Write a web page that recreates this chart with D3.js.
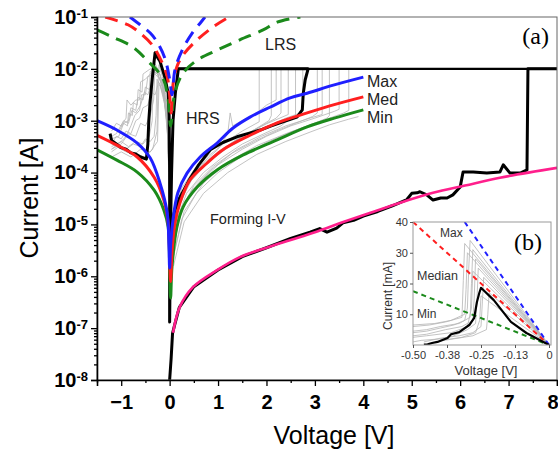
<!DOCTYPE html>
<html lang="en">
<head>
<meta charset="utf-8">
<style>
    body { margin: 0; background: #fff; }
    svg { display: block; }
    text { font-family: "Liberation Sans", Arial, sans-serif; }
</style>
</head>
<body>
<svg width="558" height="453"></svg>
<script src="https://cdn.jsdelivr.net/npm/d3@7/dist/d3.min.js"></script>
<script>
    // ---------------------------------------------------------------
    // Data. Main plot points are [V, log10(I/A)]
    // ---------------------------------------------------------------
    const xTicks = [-1, 0, 1, 2, 3, 4, 5, 6, 7, 8];
    const xMinor = [-1.5, -0.5, 0.5, 1.5, 2.5, 3.5, 4.5, 5.5, 6.5, 7.5];
    const yTickExp = [-8, -7, -6, -5, -4, -3, -2, -1];

    // HRS fits (solid)
    const maxFit = [[-1.5,-3.0],[-1.09,-3.18],[-0.67,-3.43],[-0.4,-3.72],[-0.2,-4.2],[-0.05,-4.78],[-0.015,-5.4],[0.0,-5.84],
        [0.02,-5.4],[0.07,-4.91],[0.17,-4.39],[0.36,-4.01],[0.63,-3.7],[0.98,-3.43],[1.31,-3.14],[1.66,-2.93],[2.07,-2.74],
        [2.49,-2.56],[2.84,-2.47],[3.4,-2.31],[4.0,-2.16]];
    const medFit = [[-1.5,-3.28],[-1.09,-3.47],[-0.67,-3.7],[-0.32,-4.09],[-0.12,-4.53],[-0.03,-4.97],[0.0,-5.6],[0.02,-6.1],
        [0.05,-5.5],[0.11,-4.97],[0.21,-4.59],[0.42,-4.14],[0.77,-3.82],[1.1,-3.56],[1.66,-3.28],[2.22,-3.04],[2.84,-2.85],
        [3.4,-2.69],[4.0,-2.54]];
    const minFit = [[-1.5,-3.56],[-1.09,-3.76],[-0.67,-3.99],[-0.32,-4.34],[-0.12,-4.72],[-0.03,-5.05],[0.0,-5.8],[0.02,-6.42],
        [0.05,-5.8],[0.15,-5.05],[0.28,-4.66],[0.57,-4.28],[0.98,-3.95],[1.52,-3.66],[2.22,-3.37],[2.84,-3.12],[3.4,-2.95],
        [4.0,-2.79]];

    // LRS fits (dashed)
    const maxLRS = [[-0.82,-1.0],[-0.61,-1.15],[-0.4,-1.31],[-0.26,-1.48],[-0.1,-1.79],[0.0,-2.2],[0.05,-2.5],[0.11,-2.02],
        [0.26,-1.64],[0.48,-1.29],[0.63,-1.12],[0.73,-1.0]];
    const medLRS = [[-1.33,-1.0],[-0.86,-1.15],[-0.61,-1.31],[-0.35,-1.55],[-0.16,-1.87],[-0.05,-2.15],[0.0,-2.5],[0.03,-2.85],
        [0.07,-2.3],[0.15,-1.96],[0.28,-1.73],[0.57,-1.44],[0.9,-1.19],[1.19,-1.02]];
    const minLRS = [[-1.5,-1.25],[-1.17,-1.39],[-0.76,-1.58],[-0.47,-1.83],[-0.14,-2.18],[-0.03,-2.6],[0.02,-3.1],[0.11,-2.45],
        [0.28,-2.08],[0.57,-1.83],[0.98,-1.64],[1.45,-1.44],[1.93,-1.25],[2.22,-1.1],[2.7,-1.0]];

    // Highlighted cycle (thick black)
    const cycleBlack = [[-1.23,-3.25],[-1.2,-3.38],[-1.1,-3.45],[-1.0,-3.52],[-0.9,-3.55],[-0.8,-3.62],[-0.7,-3.64],[-0.6,-3.7],
        [-0.48,-3.74],[-0.45,-3.45],[-0.43,-3.0],[-0.4,-2.6],[-0.36,-2.2],[-0.32,-1.85],[-0.3,-1.69],[-0.27,-1.75],[-0.2,-1.85],
        [-0.1,-2.16],[-0.03,-2.47],[-0.01,-2.9],[0.0,-4.0],[0.0,-6.88],[0.01,-6.0],[0.03,-5.1],[0.1,-4.75],[0.2,-4.5],
        [0.4,-4.15],[0.6,-3.85],[0.84,-3.56],[1.1,-3.42],[1.39,-3.31],[1.87,-3.18],[2.1,-3.1],[2.34,-3.02],[2.63,-2.93],
        [2.74,-2.79],[2.76,-2.47],[2.8,-2.21],[2.86,-2.0],[0.18,-2.0],[0.12,-2.45],[0.07,-3.0],[0.04,-4.0],[0.02,-5.0]];
    // Current compliance at 10 mA
    const compliance = [[0.18,-2.0],[8.0,-2.0]];

    // Forming sweep (thick black) and its fit (pink)
    const formingBlack = [[0.0,-8.0],[0.03,-7.6],[0.06,-7.1],[0.1,-6.95],[0.2,-6.6],[0.5,-6.2],[1.0,-5.88],[1.5,-5.62],
        [2.0,-5.45],[2.5,-5.27],[2.9,-5.15],[3.1,-5.08],[3.25,-5.15],[3.45,-5.07],[3.58,-4.97],[3.8,-4.92],[4.0,-4.84],
        [4.3,-4.75],[4.6,-4.64],[4.9,-4.52],[5.0,-4.4],[5.11,-4.39],[5.17,-4.37],[5.31,-4.43],[5.44,-4.53],[5.6,-4.49],
        [5.73,-4.49],[5.85,-4.43],[6.0,-4.28],[6.06,-3.99],[6.27,-3.99],[6.55,-4.01],[6.82,-3.99],[6.89,-3.85],[7.03,-4.01],
        [7.24,-4.01],[7.38,-3.95],[7.4,-2.0],[8.0,-2.0]];
    const formingFit = [[0.07,-7.09],[0.21,-6.59],[0.48,-6.21],[0.98,-5.88],[1.45,-5.63],[2.0,-5.45],[2.5,-5.3],[3.0,-5.15],
        [3.6,-4.95],[4.07,-4.8],[4.7,-4.6],[5.44,-4.39],[6.1,-4.25],[6.82,-4.1],[8.0,-3.91]];

    // Other cycles (thin grey), negative sweeps then positive sweeps
    const grayCycles = [
        [[-0.005,-4.0],[-0.03,-3.0],[-0.08,-2.5],[-0.15,-2.15],[-0.22,-1.92],[-0.24,-2.3],[-0.3,-2.5],[-0.38,-2.45],[-0.45,-2.7],[-0.55,-2.75],[-0.62,-2.95],[-0.7,-3.0],[-0.8,-3.25],[-0.9,-3.2],[-1.0,-3.35],[-1.1,-3.3],[-1.2,-3.45]],
        [[-0.005,-4.3],[-0.03,-3.2],[-0.08,-2.6],[-0.15,-2.25],[-0.25,-2.0],[-0.3,-1.95],[-0.33,-2.6],[-0.4,-2.9],[-0.5,-3.1],[-0.6,-3.05],[-0.7,-3.3],[-0.85,-3.25],[-1.0,-3.45],[-1.2,-3.55]],
        [[-0.01,-3.8],[-0.05,-2.9],[-0.12,-2.35],[-0.2,-2.1],[-0.3,-2.0],[-0.4,-2.05],[-0.42,-2.4],[-0.5,-2.35],[-0.55,-2.6],[-0.65,-2.55],[-0.7,-2.8],[-0.8,-2.75],[-0.85,-3.0],[-0.95,-3.05],[-1.05,-3.2],[-1.2,-3.15]],
        [[-0.01,-4.0],[-0.06,-2.95],[-0.15,-2.3],[-0.25,-2.1],[-0.35,-2.05],[-0.5,-2.2],[-0.6,-2.25],[-0.62,-2.6],[-0.7,-2.6],[-0.8,-2.7],[-0.88,-2.6],[-0.9,-2.95],[-1.0,-3.1],[-1.1,-3.05],[-1.2,-3.2]],
        [[-0.005,-4.5],[-0.04,-3.3],[-0.1,-2.7],[-0.2,-2.3],[-0.26,-2.2],[-0.28,-2.9],[-0.32,-3.3],[-0.4,-3.4],[-0.5,-3.35],[-0.6,-3.5],[-0.75,-3.45],[-0.9,-3.55],[-1.05,-3.5],[-1.2,-3.6]],
        [[-0.01,-3.9],[-0.05,-3.0],[-0.12,-2.4],[-0.22,-2.05],[-0.3,-1.9],[-0.36,-1.95],[-0.38,-2.3],[-0.45,-2.5],[-0.52,-2.45],[-0.6,-2.7],[-0.7,-2.85],[-0.78,-2.8],[-0.85,-3.05],[-0.95,-3.0],[-1.1,-3.25],[-1.2,-3.3]],
        [[-0.01,-4.1],[-0.05,-3.05],[-0.12,-2.5],[-0.2,-2.2],[-0.3,-2.1],[-0.45,-2.15],[-0.5,-2.5],[-0.58,-2.5],[-0.62,-2.8],[-0.72,-2.9],[-0.8,-3.1],[-0.9,-3.3],[-1.0,-3.4],[-1.2,-3.5]],
        [[-0.005,-4.2],[-0.05,-3.1],[-0.12,-2.55],[-0.2,-2.3],[-0.24,-2.25],[-0.26,-3.2],[-0.35,-3.55],[-0.5,-3.7],[-0.7,-3.65],[-0.9,-3.6],[-1.1,-3.5],[-1.2,-3.45]],
        [[-0.01,-3.9],[-0.06,-2.9],[-0.15,-2.3],[-0.3,-2.0],[-0.34,-2.05],[-0.36,-3.0],[-0.42,-3.3],[-0.55,-3.45],[-0.7,-3.4],[-0.85,-3.5],[-1.0,-3.4],[-1.2,-3.55]],
        [[-0.01,-4.0],[-0.05,-3.0],[-0.15,-2.35],[-0.25,-2.1],[-0.4,-2.0],[-0.55,-2.1],[-0.57,-2.45],[-0.65,-2.4],[-0.67,-2.7],[-0.75,-2.65],[-0.77,-2.9],[-0.85,-2.85],[-0.87,-3.1],[-0.95,-3.05],[-1.05,-3.3],[-1.2,-3.35]],
        [[-0.005,-4.4],[-0.04,-3.2],[-0.1,-2.65],[-0.18,-2.35],[-0.22,-2.3],[-0.25,-3.4],[-0.4,-3.6],[-0.6,-3.55],[-0.8,-3.7],[-1.0,-3.6],[-1.2,-3.7]],
        [[0.03,-5.4],[0.1,-4.8],[0.25,-4.3],[0.5,-3.95],[0.8,-3.68],[1.2,-3.38],[1.5,-3.2],[1.85,-3.02],[1.85,-2.0]],
        [[0.03,-5.5],[0.12,-4.85],[0.3,-4.35],[0.55,-4.0],[0.9,-3.7],[1.3,-3.42],[1.7,-3.2],[2.05,-3.0],[2.1,-2.9],[2.1,-2.0]],
        [[0.04,-5.3],[0.15,-4.7],[0.3,-4.3],[0.6,-3.9],[1.0,-3.6],[1.4,-3.35],[1.8,-3.15],[2.2,-2.95],[2.3,-2.85],[2.3,-2.0]],
        [[0.03,-5.6],[0.15,-4.9],[0.35,-4.4],[0.7,-4.0],[1.1,-3.7],[1.5,-3.45],[1.95,-3.25],[2.3,-3.1],[2.5,-2.95],[2.6,-2.9],[2.6,-2.0]],
        [[0.05,-5.4],[0.2,-4.65],[0.4,-4.2],[0.8,-3.8],[1.2,-3.52],[1.6,-3.3],[2.0,-3.12],[2.4,-2.95],[2.7,-2.85],[2.75,-2.7],[2.75,-2.0]],
        [[0.05,-5.6],[0.2,-4.85],[0.45,-4.35],[0.85,-3.95],[1.3,-3.62],[1.75,-3.4],[2.2,-3.2],[2.6,-3.05],[2.95,-2.92],[3.05,-2.85],[3.05,-2.0]],
        [[0.06,-5.7],[0.25,-4.9],[0.55,-4.4],[1.0,-4.0],[1.5,-3.68],[2.0,-3.42],[2.5,-3.22],[2.9,-3.08],[3.25,-2.95],[3.3,-2.9],[3.3,-2.0]],
        [[0.06,-5.5],[0.25,-4.7],[0.6,-4.2],[1.0,-3.85],[1.5,-3.55],[2.0,-3.3],[2.5,-3.1],[3.0,-2.95],[3.4,-2.82],[3.5,-2.78],[3.5,-2.0]],
        [[0.08,-5.6],[0.3,-4.75],[0.7,-4.2],[1.2,-3.8],[1.8,-3.48],[2.4,-3.25],[2.9,-3.08],[3.3,-2.95],[3.6,-2.85],[3.7,-2.8],[3.7,-2.0]],
        [[0.08,-5.8],[0.3,-4.95],[0.7,-4.4],[1.2,-4.0],[1.8,-3.65],[2.4,-3.4],[2.9,-3.22],[3.3,-3.08],[3.7,-2.97],[3.9,-2.92]],
        [[0.05,-5.3],[0.2,-4.55],[0.4,-4.15],[0.7,-3.8],[1.0,-3.55],[1.2,-3.25],[1.25,-2.85],[1.3,-3.1],[1.5,-3.0],[1.8,-2.85],[2.0,-2.7],[2.2,-2.6],[2.2,-2.0]],
        [[0.05,-5.35],[0.2,-4.6],[0.45,-4.15],[0.8,-3.78],[1.2,-3.48],[1.6,-3.25],[2.0,-3.06],[2.45,-2.88],[2.45,-2.0]],
        [[0.05,-5.45],[0.25,-4.7],[0.5,-4.25],[0.9,-3.88],[1.4,-3.55],[1.9,-3.3],[2.4,-3.1],[2.9,-2.95],[3.15,-2.88],[3.15,-2.0]]
    ];

    // Inset (b): points are [V, I in mA]
    const insetXTicks = [-0.5, -0.375, -0.25, -0.125, 0];
    const insetXLabels = ["-0.50", "-0.38", "-0.25", "-0.13", "0"];
    const insetYTicks = [10, 20, 30, 40];
    const insetMax = [[-0.31,40],[0,0]];
    const insetMed = [[-0.5,40],[0,0]];
    const insetMin = [[-0.5,17.5],[0,0]];
    const insetBlack = [[0,0],[-0.083,3.9],[-0.14,7.5],[-0.203,14.6],[-0.25,18.6],[-0.256,17],[-0.265,14],[-0.275,8.8],
        [-0.293,6.5],[-0.33,4.2],[-0.36,3.5],[-0.373,2.3],[-0.41,1.0],[-0.43,0.65],[-0.446,0.2],[-0.46,0.1]];
    const insetGray = [
        [[0,0],[-0.29,34],[-0.295,25],[-0.3,12],[-0.31,8],[-0.35,6.5],[-0.4,5.5],[-0.45,4.5],[-0.5,4]],
        [[0,0],[-0.28,31],[-0.285,20],[-0.29,9],[-0.33,7],[-0.4,6],[-0.45,5],[-0.5,4.5]],
        [[0,0],[-0.27,28],[-0.275,15],[-0.28,8],[-0.32,6],[-0.38,5],[-0.45,3.5],[-0.5,3]],
        [[0,0],[-0.26,25],[-0.265,14],[-0.27,7],[-0.3,5],[-0.35,3],[-0.4,2],[-0.47,1.5],[-0.5,1]],
        [[0,0],[-0.24,22],[-0.245,14],[-0.25,6],[-0.28,4],[-0.33,3],[-0.4,2.2],[-0.46,1]],
        [[0,0],[-0.3,30],[-0.305,18],[-0.31,10],[-0.36,8],[-0.42,7],[-0.5,6.5]],
        [[0,0],[-0.22,17],[-0.225,10],[-0.23,5],[-0.28,3],[-0.35,2],[-0.42,1]],
        [[0,0],[-0.25,16],[-0.255,8],[-0.27,4],[-0.32,2.5],[-0.4,1.5]],
        [[0,0],[-0.28,24],[-0.285,12],[-0.3,6],[-0.36,4],[-0.45,3],[-0.5,2.5]],
        [[0,0],[-0.31,33],[-0.315,21],[-0.32,9],[-0.38,7.5],[-0.44,6.5],[-0.5,6]]
    ];

    const colors = { max: "#1f1fff", med: "#ff1f1f", min: "#1b8a1b", fit: "#ff1f8c", gray: "#b4b4b4" };

    // ---------------------------------------------------------------
    // Main plot (a)
    // ---------------------------------------------------------------
    const svg = d3.select("svg");
    const plot = { left: 97, right: 557, top: 17, bottom: 380 };

    const x = d3.scaleLinear().domain([-1.5, 8]).range([plot.left, plot.right]);
    const y = d3.scaleLog().domain([1e-8, 1e-1]).range([plot.bottom, plot.top]);

    svg.append("defs").append("clipPath").attr("id", "clipMain")
        .append("rect").attr("x", plot.left).attr("y", plot.top)
        .attr("width", plot.right - plot.left).attr("height", plot.bottom - plot.top);

    const line = d3.line().x(d => x(d[0])).y(d => y(Math.pow(10, d[1])));
    const smooth = d3.line().x(d => x(d[0])).y(d => y(Math.pow(10, d[1]))).curve(d3.curveCatmullRom.alpha(0.5));

    const chart = svg.append("g").attr("clip-path", "url(#clipMain)");

    chart.selectAll(".gray").data(grayCycles).enter().append("path")
        .attr("d", line).style("fill", "none").style("stroke", colors.gray).style("stroke-width", 0.8);

    // black cycle goes under the fits so the coloured tips show at 0 V
    chart.append("path").attr("d", line(cycleBlack))
        .style("fill", "none").style("stroke", "#000").style("stroke-width", 3).style("stroke-linejoin", "round");
    chart.append("path").attr("d", line(compliance))
        .style("fill", "none").style("stroke", "#000").style("stroke-width", 2.2);

    [[minFit, colors.min], [medFit, colors.med], [maxFit, colors.max]].forEach(([data, c]) => {
        chart.append("path").attr("d", smooth(data))
            .style("fill", "none").style("stroke", c).style("stroke-width", 3).style("stroke-linejoin", "round");
    });

    chart.append("path").attr("d", line(formingBlack))
        .style("fill", "none").style("stroke", "#000").style("stroke-width", 3).style("stroke-linejoin", "round");
    chart.append("path").attr("d", smooth(formingFit))
        .style("fill", "none").style("stroke", colors.fit).style("stroke-width", 2.6);

    [[minLRS, colors.min], [medLRS, colors.med], [maxLRS, colors.max]].forEach(([data, c]) => {
        chart.append("path").attr("d", smooth(data))
            .style("fill", "none").style("stroke", c).style("stroke-width", 3)
            .attr("stroke-dasharray", "13,8");
    });

    // frame
    svg.append("rect").attr("x", plot.left).attr("y", plot.top)
        .attr("width", plot.right - plot.left).attr("height", plot.bottom - plot.top)
        .style("fill", "none").style("stroke", "#666").style("stroke-width", 1);

    // x axis
    const xAxis = svg.append("g").attr("transform", `translate(0,${plot.bottom})`)
        .call(d3.axisBottom(x).tickValues(xTicks).tickSize(6).tickPadding(9).tickFormat(d3.format("d")));
    svg.append("g").attr("transform", `translate(0,${plot.bottom})`)
        .call(d3.axisBottom(x).tickValues(xMinor).tickSize(3).tickFormat(""))
        .select(".domain").remove();
    xAxis.selectAll("text").style("font-size", "20px").style("font-weight", "bold").style("fill", "#000")
        .style("font-family", "'Liberation Sans', Arial, sans-serif");
    // last label sits on the right edge of the page
    xAxis.selectAll(".tick text").filter(d => d === 8).attr("text-anchor", "end").attr("x", 1);

    // y axis
    const yMajor = yTickExp.map(e => Math.pow(10, e));
    const yMinor = [];
    yTickExp.slice(0, -1).forEach(e => d3.range(2, 10).forEach(m => yMinor.push(m * Math.pow(10, e))));
    const yAxis = svg.append("g").attr("transform", `translate(${plot.left},0)`)
        .call(d3.axisLeft(y).tickValues(yMajor).tickSize(6).tickPadding(3).tickFormat(() => ""));
    svg.append("g").attr("transform", `translate(${plot.left},0)`)
        .call(d3.axisLeft(y).tickValues(yMinor).tickSize(3).tickFormat(""))
        .select(".domain").remove();
    yAxis.selectAll(".tick text").each(function(d) {
        const t = d3.select(this).text(null)
            .style("font-size", "20px").style("font-weight", "bold").style("fill", "#000")
            .style("font-family", "'Liberation Sans', Arial, sans-serif");
        t.append("tspan").text("10");
        t.append("tspan").attr("dy", "-6").style("font-size", "13px").text(Math.round(Math.log10(d)));
    });
    [xAxis, yAxis].forEach(a => a.select(".domain").style("stroke-width", 1.6));
    svg.selectAll(".tick line").style("stroke-width", 1.3);

    // axis titles
    svg.append("text").attr("x", 334).attr("y", 444).attr("text-anchor", "middle")
        .style("font-size", "25px").text("Voltage [V]");
    svg.append("text").attr("transform", "translate(38,198) rotate(-90)").attr("text-anchor", "middle")
        .style("font-size", "25px").text("Current [A]");

    // annotations
    svg.append("text").attr("x", 549).attr("y", 44).attr("text-anchor", "end")
        .style("font-family", "'Liberation Serif', serif").style("font-size", "24px").text("(a)");
    svg.append("text").attr("x", 265).attr("y", 50).style("font-size", "16px").style("fill", "#222").text("LRS");
    svg.append("text").attr("x", 186).attr("y", 124).style("font-size", "16px").style("fill", "#222").text("HRS");
    svg.append("text").attr("x", 210).attr("y", 224).style("font-size", "14.5px").style("fill", "#222").text("Forming I-V");
    [["Max", 87], ["Med", 105], ["Min", 123]].forEach(([t, yy]) => {
        svg.append("text").attr("x", 367).attr("y", yy).style("font-size", "16px").style("fill", "#222").text(t);
    });

    // ---------------------------------------------------------------
    // Inset (b)
    // ---------------------------------------------------------------
    const ib = { left: 413, right: 551, top: 222, bottom: 345 };
    const ix = d3.scaleLinear().domain([-0.5, 0]).range([ib.left, 549]);
    const iy = d3.scaleLinear().domain([0, 40]).range([ib.bottom, ib.top]);

    svg.append("rect").attr("x", 378).attr("y", 214).attr("width", 178).attr("height", 164).style("fill", "#fff");

    svg.select("defs").append("clipPath").attr("id", "clipInset")
        .append("rect").attr("x", ib.left).attr("y", ib.top)
        .attr("width", ib.right - ib.left).attr("height", ib.bottom - ib.top);

    const iline = d3.line().x(d => ix(d[0])).y(d => iy(d[1]));
    const inset = svg.append("g").attr("clip-path", "url(#clipInset)");

    inset.selectAll(".igray").data(insetGray).enter().append("path")
        .attr("d", iline).style("fill", "none").style("stroke", colors.gray).style("stroke-width", 0.8);
    [[insetMin, colors.min], [insetMed, colors.med], [insetMax, colors.max]].forEach(([data, c]) => {
        inset.append("path").attr("d", iline(data))
            .style("fill", "none").style("stroke", c).style("stroke-width", 2).attr("stroke-dasharray", "5,4");
    });
    inset.append("path").attr("d", iline(insetBlack))
        .style("fill", "none").style("stroke", "#000").style("stroke-width", 2.2).style("stroke-linejoin", "round");

    svg.append("rect").attr("x", ib.left).attr("y", ib.top)
        .attr("width", ib.right - ib.left).attr("height", ib.bottom - ib.top)
        .style("fill", "none").style("stroke", "#999").style("stroke-width", 1);

    const ixAxis = svg.append("g").attr("transform", `translate(0,${ib.bottom})`)
        .call(d3.axisBottom(ix).tickValues(insetXTicks).tickSize(3).tickPadding(3)
            .tickFormat((d, i) => insetXLabels[i]));
    const iyAxis = svg.append("g").attr("transform", `translate(${ib.left},0)`)
        .call(d3.axisLeft(iy).tickValues(insetYTicks).tickSize(3).tickPadding(2));
    [ixAxis, iyAxis].forEach(a => {
        a.select(".domain").remove();
        a.selectAll("line").style("stroke", "#555");
        a.selectAll("text").style("font-size", "11px").style("fill", "#333")
            .style("font-family", "'Liberation Sans', Arial, sans-serif");
    });

    svg.append("text").attr("x", 486).attr("y", 375).attr("text-anchor", "middle")
        .style("font-size", "13px").style("fill", "#333").text("Voltage [V]");
    svg.append("text").attr("transform", "translate(392,296) rotate(-90)").attr("text-anchor", "middle")
        .style("font-size", "12px").style("fill", "#333").text("Current [mA]");
    svg.append("text").attr("x", 542).attr("y", 250).attr("text-anchor", "end")
        .style("font-family", "'Liberation Serif', serif").style("font-size", "24px").text("(b)");
    svg.append("text").attr("x", 440).attr("y", 237).style("font-size", "12px").style("fill", "#333").text("Max");
    svg.append("text").attr("x", 417).attr("y", 280).style("font-size", "12.5px").style("fill", "#333").text("Median");
    svg.append("text").attr("x", 417).attr("y", 318).style("font-size", "12px").style("fill", "#333").text("Min");
</script>
</body>
</html>
